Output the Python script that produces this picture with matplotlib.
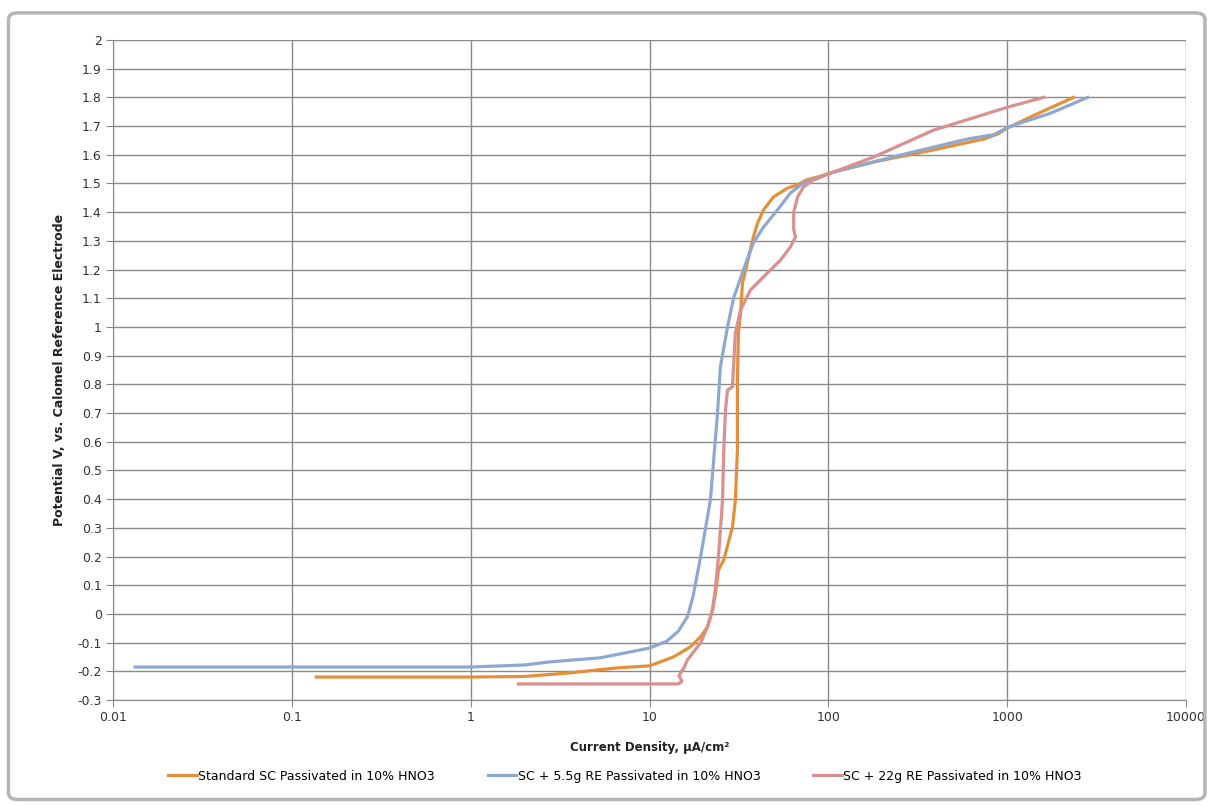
import matplotlib
matplotlib.use("Agg")
import matplotlib.pyplot as plt
from matplotlib.patches import FancyBboxPatch

plt.rcParams['font.family'] = ['DejaVu Sans']

# Standard SC passivated in 10% HNO3
std_x = [0.137, 1.0, 2.0, 3.5, 6.6, 10, 13.6, 16.9, 19.3, 21.1, 22.5, 23.4, 24.3,
         26, 29.1, 30.2, 31, 31, 31.4, 32.3, 33.1, 35.2, 38.1, 40.2, 43.4, 49.3,
         59.2, 67.3, 75, 90, 107, 180, 388, 740, 883, 1000, 1500, 2350]
std_v = [-0.220, -0.220, -0.218, -0.206, -0.188, -0.181, -0.150, -0.115, -0.080,
         -0.045, 0.014, 0.073, 0.153, 0.188, 0.303, 0.397, 0.571, 0.805, 0.979,
         1.05, 1.153, 1.223, 1.314, 1.362, 1.408, 1.453, 1.484, 1.495, 1.512,
         1.525, 1.540, 1.575, 1.617, 1.655, 1.672, 1.693, 1.745, 1.80]

# SC + 5.5g RE
re55_x = [0.0133, 0.1, 1.0, 2.0, 2.79, 5.3, 10, 12.5, 14.5, 16.3, 17.5, 19.3, 21.9,
          24, 24.9, 27.3, 29.5, 33.5, 38.1, 43.4, 52, 61.4, 72.6, 90.4, 107, 253,
          601, 841, 1019, 1750, 2820]
re55_v = [-0.185, -0.185, -0.185, -0.178, -0.167, -0.153, -0.119, -0.095, -0.060,
          -0.010, 0.060, 0.199, 0.397, 0.700, 0.861, 1.0, 1.1, 1.199, 1.293, 1.348,
          1.408, 1.467, 1.502, 1.523, 1.540, 1.599, 1.655, 1.670, 1.697, 1.745, 1.80]

# SC + 22g RE
re22_x = [1.85, 14.5, 15.2, 14.6, 15.5, 16.3, 19.3, 21.1, 22.5, 23.4, 24.3, 25.6,
          26, 26.6, 27.3, 29.1, 29.5, 30.2, 32.3, 36.7, 45.6, 54, 61.4, 65.5, 64,
          64, 67.3, 72.6, 82.6, 103, 179, 388, 1019, 1600]
re22_v = [-0.244, -0.244, -0.235, -0.215, -0.190, -0.160, -0.101, -0.045, 0.014,
          0.094, 0.199, 0.397, 0.571, 0.711, 0.780, 0.791, 0.861, 0.979, 1.059,
          1.129, 1.188, 1.233, 1.279, 1.314, 1.34, 1.40, 1.453, 1.488, 1.512,
          1.536, 1.592, 1.686, 1.767, 1.80]

labels = ["Standard SC Passivated in 10% HNO3",
          "SC + 5.5g RE Passivated in 10% HNO3",
          "SC + 22g RE Passivated in 10% HNO3"]
colors = ['#E48F3A', '#8EA8D2', '#D9918F']

x_ticks = [0.01, 0.1, 1, 10, 100, 1000, 10000]
x_tick_labels = ['0.01', '0.1', '1', '10', '100', '1000', '10000']
y_ticks = [2 - 0.1 * i for i in range(24)]
y_tick_labels = ['2', '1.9', '1.8', '1.7', '1.6', '1.5', '1.4', '1.3', '1.2', '1.1',
                 '1', '0.9', '0.8', '0.7', '0.6', '0.5', '0.4', '0.3', '0.2', '0.1',
                 '0', '-0.1', '-0.2', '-0.3']

fig = plt.figure(figsize=(12.11, 8.06), dpi=100)
ax = fig.add_axes([0.0933, 0.1315, 0.8861, 0.8189])

for xs, vs, lab, c in zip([std_x, re55_x, re22_x], [std_v, re55_v, re22_v], labels, colors):
    ax.plot(xs, vs, color=c, lw=2.3, label=lab, solid_joinstyle='round')

ax.set_xscale('log')
ax.set_xlim(0.01, 10000)
ax.set_ylim(-0.3, 2)
ax.set_xticks(x_ticks)
ax.set_xticklabels(x_tick_labels)
ax.xaxis.set_minor_locator(matplotlib.ticker.NullLocator())
ax.set_yticks(y_ticks)
ax.set_yticklabels(y_tick_labels)
ax.grid(True, color='#8A8A8A', lw=1.0)
ax.set_axisbelow(True)
for side in ['top', 'right']:
    ax.spines[side].set_visible(False)
for side in ['left', 'bottom']:
    ax.spines[side].set_color('#8A8A8A')
ax.tick_params(axis='both', colors='#8A8A8A', length=5, labelsize=9,
               labelcolor='#333333')
ax.tick_params(axis='x', pad=3)
ax.tick_params(axis='y', pad=3)

ax.set_xlabel('Current Density, µA/cm²', fontsize=8.5, fontweight='bold',
              color='#222222', labelpad=12)
ax.set_ylabel('Potential V, vs. Calomel Reference Electrode', fontsize=9,
              fontweight='bold', color='#222222', labelpad=8)

fig.legend(loc='center', bbox_to_anchor=(0.516, 0.037), ncol=3, frameon=False,
           fontsize=9, handlelength=2.3, handletextpad=0.1, columnspacing=4.2)

frame = FancyBboxPatch((0.007, 0.008), 0.988, 0.976, transform=fig.transFigure,
                       boxstyle='round,pad=0,rounding_size=0.008',
                       facecolor='none', edgecolor='#B5B5B5', lw=2.5)
fig.patches.append(frame)

fig.savefig('out.png', dpi=100)
